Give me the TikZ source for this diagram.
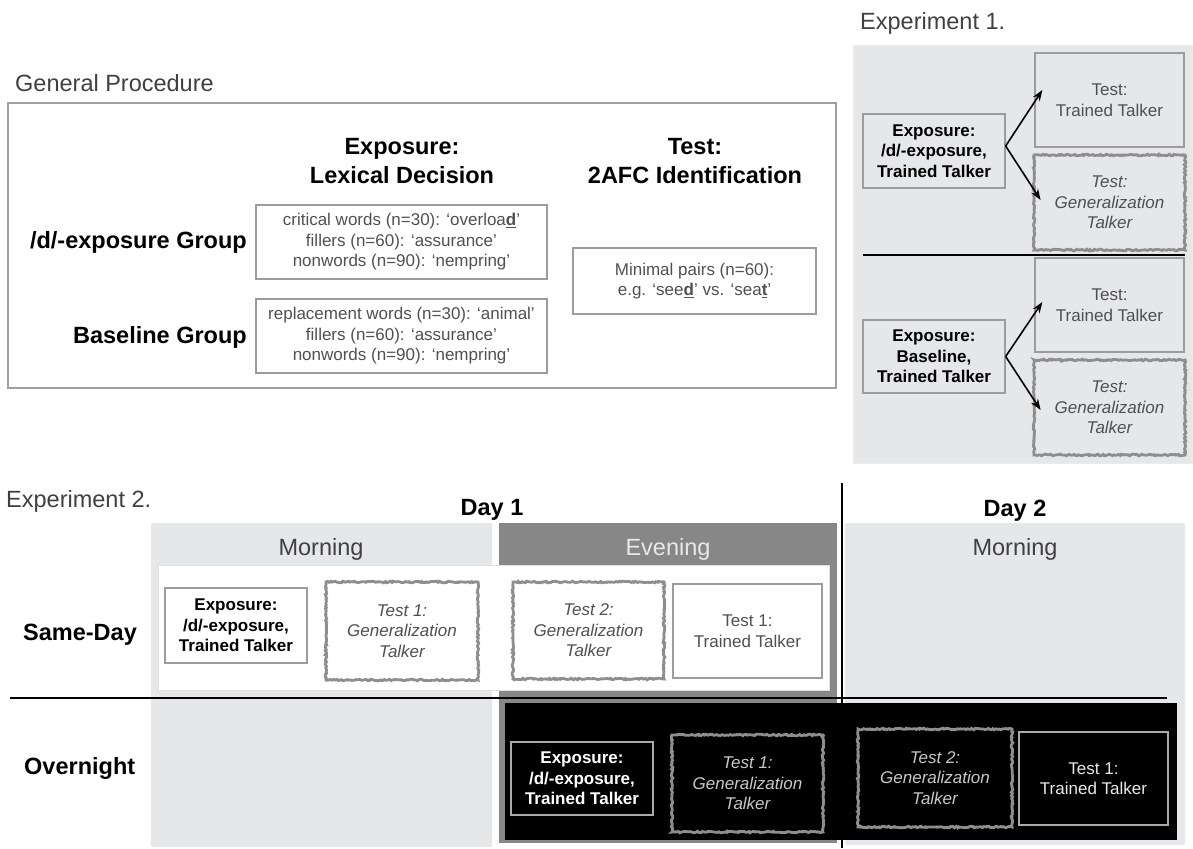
\documentclass[tikz,border=0pt]{standalone}
\usepackage{fontspec}
\setmainfont{Liberation Sans}
\usetikzlibrary{decorations.pathmorphing,arrows.meta}
\definecolor{panelgray}{HTML}{E6E7E9}
\definecolor{evegray}{HTML}{878787}
\definecolor{framegray}{HTML}{A0A0A0}
\definecolor{boxgray}{HTML}{9C9C9C}
\definecolor{jaggray}{HTML}{8E8E8E}
\definecolor{titlegray}{HTML}{404040}
\definecolor{textgray}{HTML}{505050}
\definecolor{evetext}{HTML}{E8E8E8}
\definecolor{nightgen}{HTML}{C8C8C8}
\definecolor{nightline}{HTML}{AAAAAA}
\newcommand{\mytitlefont}{\fontsize{23.5}{28}\selectfont}
\newcommand{\myheadfont}{\fontsize{23.5}{29}\selectfont\bfseries}
\newcommand{\myboxfont}{\fontsize{17}{20.5}\selectfont}
\newcommand{\ud}[1]{\underline{\textbf{#1}}}
\begin{document}
\pgfmathsetseed{7}
\begin{tikzpicture}[x=1pt,y=-1pt,
  every node/.style={inner sep=0pt},
  title/.style={font=\mytitlefont, text=titlegray, anchor=base west},
  head/.style={font=\myheadfont, text=black, align=center},
  grp/.style={font=\myheadfont, text=black, anchor=base west},
  plainbox/.style={draw=boxgray, line width=1.3pt, align=center, font=\myboxfont, text=textgray},
  expbox/.style={plainbox, text=black, font=\myboxfont\bfseries},
  genbox/.style={plainbox, draw=jaggray, line width=2.8pt, decorate,
    decoration={random steps, segment length=1.6pt, amplitude=0.8pt}, font=\myboxfont\itshape},
  panel/.style={fill=panelgray, rounded corners=2pt},
  arr/.style={-{Stealth[length=11pt,width=8pt]}, line width=1.6pt},
]
\useasboundingbox (0,0) rectangle (1193,848);

% ---------- General Procedure ----------
\node[title] (gpt) at (15,92) {General Procedure};
\node[draw=framegray, line width=1.6pt, minimum width=828, minimum height=285] (gp) at (422,245.5) {};
\node[head] (hexp) at (402,161) {Exposure:\\Lexical Decision};
\node[head] (htest) at (695,161) {Test:\\2AFC Identification};
\node[grp, anchor=base east] (gd) at (247,248) {/d/-exposure Group};
\node[grp, anchor=base east] (gb) at (247,343) {Baseline Group};
\node[plainbox, minimum width=291, minimum height=74] (crit) at (401.5,242)
  {critical words (n=30): ‘overloa\ud{d}’\\fillers (n=60): ‘assurance’\\nonwords (n=90): ‘nempring’};
\node[plainbox, minimum width=291, minimum height=74] (repl) at (401.5,336)
  {replacement words (n=30): ‘animal’\\fillers (n=60): ‘assurance’\\nonwords (n=90): ‘nempring’};
\node[plainbox, minimum width=243, minimum height=66] (mp) at (694.5,281)
  {Minimal pairs (n=60):\\e.g. ‘see\ud{d}’ vs. ‘sea\ud{t}’};

% ---------- Experiment 1 ----------
\node[title] (e1t) at (860,30) {Experiment 1.};
\node[fill=panelgray, draw=black!8, line width=0.8pt, minimum width=339, minimum height=418] (p1) at (1022.5,254) {};
\node[expbox, minimum width=142, minimum height=74] (ea) at (934,151) {Exposure:\\/d/-exposure,\\Trained Talker};
\node[plainbox, minimum width=149, minimum height=94] (ta) at (1109.5,100) {Test:\\Trained Talker};
\node[genbox, minimum width=151, minimum height=95] (ga) at (1109.5,202.5) {Test:\\Generalization\\Talker};
\draw[line width=1.6pt] (863,255) -- (1185,255);
\node[expbox, minimum width=142, minimum height=73] (eb) at (934,356.5) {Exposure:\\Baseline,\\Trained Talker};
\node[plainbox, minimum width=149, minimum height=94] (tb) at (1109.5,305) {Test:\\Trained Talker};
\node[genbox, minimum width=151, minimum height=95] (gbx) at (1109.5,407.5) {Test:\\Generalization\\Talker};
\draw[arr] ([yshift=5pt]ea.east) -- ([xshift=8pt,yshift=10pt]ta.west);
\draw[arr] ([yshift=5pt]ea.east) -- ([xshift=8pt,yshift=2.5pt]ga.west);
\draw[arr] (eb.east) -- ([xshift=8pt,yshift=3pt]tb.west);
\draw[arr] (eb.east) -- ([xshift=8pt,yshift=-2.5pt]gbx.west);

% ---------- Experiment 2 ----------
\node[title] (e2t) at (6,507) {Experiment 2.};
\node[font=\myheadfont, anchor=base] (d1) at (492,515) {Day 1};
\node[font=\myheadfont, anchor=base] (d2) at (1015,516) {Day 2};
\node[panel, minimum width=341, minimum height=324] (m1) at (321.5,685) {};
\node[fill=evegray, minimum width=338, minimum height=320] (ev) at (668,683) {};
\node[panel, minimum width=340, minimum height=322] (m2) at (1015,684) {};
\node[title, anchor=base] (m1t) at (321,555) {Morning};
\node[title, anchor=base, text=evetext] (evt) at (668,555) {Evening};
\node[title, anchor=base] (m2t) at (1015,555) {Morning};
\node[fill=white, draw=black!12, line width=0.6pt, minimum width=671, minimum height=125] (sd) at (493.5,627.5) {};
\node[fill=black, minimum width=672, minimum height=137] (on) at (841,771.5) {};
\draw[line width=1.3pt] (842,483) -- (842,848);
\draw[line width=1.6pt] (10,698) -- (1167,698);
\node[grp] (sdl) at (23,640) {Same-Day};
\node[grp] (onl) at (24,774) {Overnight};

% Same-Day row
\node[expbox, minimum width=142, minimum height=75] (sde) at (236,625.5) {Exposure:\\/d/-exposure,\\Trained Talker};
\node[genbox, minimum width=152, minimum height=98] (sdg1) at (402,631) {Test 1:\\Generalization\\Talker};
\node[genbox, minimum width=151, minimum height=97] (sdg2) at (588.5,630.5) {Test 2:\\Generalization\\Talker};
\node[plainbox, minimum width=149, minimum height=94] (sdt1) at (747.5,631) {Test 1:\\Trained Talker};

% Overnight row
\node[expbox, draw=nightline, text=white, minimum width=142, minimum height=73] (one) at (582,778.5) {Exposure:\\/d/-exposure,\\Trained Talker};
\node[genbox, text=nightgen, minimum width=151, minimum height=97] (ong1) at (747.5,783.5) {Test 1:\\Generalization\\Talker};
\node[genbox, text=nightgen, minimum width=154, minimum height=98] (ong2) at (935,778) {Test 2:\\Generalization\\Talker};
\node[plainbox, draw=nightline, text=evetext, minimum width=149, minimum height=93] (ont1) at (1093.5,778.5) {Test 1:\\Trained Talker};
\end{tikzpicture}
\end{document}
